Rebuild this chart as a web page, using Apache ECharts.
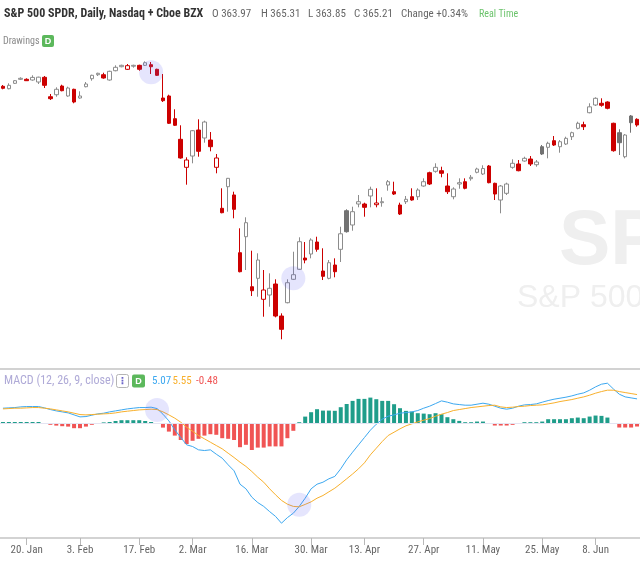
<!DOCTYPE html>
<html><head><meta charset="utf-8">
<script src="https://cdn.jsdelivr.net/npm/echarts@6/dist/echarts.min.js"></script>
<style>html,body{margin:0;padding:0;background:#fff}#c{width:640px;height:562px}</style>
</head><body><div id="c"></div>
<script>
// trading days (2020)
const dates = [
 '01-14','01-15','01-16','01-17','01-21','01-22','01-23','01-24','01-27','01-28','01-29','01-30','01-31',
 '02-03','02-04','02-05','02-06','02-07','02-10','02-11','02-12','02-13','02-14','02-18','02-19','02-20','02-21','02-24','02-25','02-26','02-27','02-28',
 '03-02','03-03','03-04','03-05','03-06','03-09','03-10','03-11','03-12','03-13','03-16','03-17','03-18','03-19','03-20','03-23','03-24','03-25','03-26','03-27','03-30','03-31',
 '04-01','04-02','04-03','04-06','04-07','04-08','04-09','04-13','04-14','04-15','04-16','04-17','04-20','04-21','04-22','04-23','04-24','04-27','04-28','04-29','04-30',
 '05-01','05-04','05-05','05-06','05-07','05-08','05-11','05-12','05-13','05-14','05-15','05-18','05-19','05-20','05-21','05-22','05-26','05-27','05-28','05-29',
 '06-01','06-02','06-03','06-04','06-05','06-08','06-09','06-10','06-11','06-12','06-15','06-16','06-17'
].map(d => '2020-' + d);

// x-axis tick labels
const tickDates = ['2020-01-21','2020-02-03','2020-02-18','2020-03-02','2020-03-16','2020-03-30','2020-04-13','2020-04-27','2020-05-11','2020-05-26','2020-06-08'];
const tickLabels = ['20. Jan','3. Feb','17. Feb','2. Mar','16. Mar','30. Mar','13. Apr','27. Apr','11. May','25. May','8. Jun'];

// [open, close, low, high]
const candles = [
 [328.32,327.45,327.01,328.88],[327.27,328.75,327.01,329.62],[329.62,330.76,329.32,331.06],[331.37,331.80,331.06,332.24],
 [331.37,330.76,330.63,331.80],[331.06,332.20,330.76,333.11],[330.19,332.30,329.32,332.50],[332.24,328.75,327.58,332.80],
 [323.79,322.92,322.35,324.97],[324.66,327.01,323.79,327.88],[328.45,326.40,326.14,329.01],[324.10,327.58,323.79,328.14],
 [327.01,321.48,320.92,327.27],[323.22,324.10,322.92,326.14],[328.14,329.32,327.88,330.19],[331.63,333.11,330.76,333.37],
 [333.37,333.98,332.80,334.24],[333.37,331.93,331.63,334.24],[331.06,334.85,330.76,335.11],[335.11,336.59,334.85,337.46],
 [336.85,337.46,336.59,337.72],[335.72,337.30,335.42,338.03],[337.07,337.46,336.42,337.72],[337.46,335.72,335.11,337.72],
 [337.46,338.59,337.16,339.20],[337.72,336.85,333.68,338.90],[335.72,333.11,332.80,335.98],[323.22,322.05,321.48,333.68],
 [324.10,312.21,311.90,324.66],[314.21,311.34,311.03,318.30],[305.24,297.10,296.79,311.34],[293.04,296.22,285.47,297.40],
 [297.96,308.98,294.79,309.29],[309.29,300.01,297.66,313.95],[305.81,312.77,303.76,313.34],[304.93,302.02,300.01,308.41],
 [293.04,297.10,290.43,298.84],[275.19,273.27,273.01,283.90],[284.60,288.25,273.71,288.40],[281.00,274.75,270.83,282.42],
 [255.85,247.58,247.30,266.48],[262.82,268.92,248.32,271.27],[241.04,239.30,236.99,256.72],[244.70,252.67,236.69,255.59],
 [235.56,239.61,227.98,248.32],[237.43,240.35,232.33,246.88],[242.22,228.28,227.70,244.27],[228.28,222.49,218.14,229.46],
 [234.08,242.79,233.81,244.27],[244.27,246.27,243.96,256.29],[248.62,260.64,248.32,262.56],[253.54,252.67,251.23,260.51],
 [255.28,261.38,253.41,262.12],[260.51,257.33,256.29,262.82],[247.88,245.57,243.96,257.77],[244.70,251.50,244.27,252.67],
 [250.49,247.58,245.14,253.41],[257.33,264.10,251.80,267.17],[274.14,265.00,264.60,274.75],[267.92,273.71,265.43,275.89],
 [277.06,278.06,275.62,280.98],[277.06,275.62,271.53,277.63],[280.55,283.46,275.62,284.60],[276.76,277.50,275.62,283.90],
 [277.63,278.06,275.89,279.98],[285.33,286.77,282.85,287.51],[282.42,281.41,280.98,286.77],[276.62,272.70,272.27,277.63],
 [278.06,279.11,277.06,280.55],[280.24,278.80,278.50,283.90],[280.24,283.16,278.80,283.90],[284.90,286.77,284.60,288.25],
 [290.69,285.77,285.33,291.13],[291.30,293.04,290.69,294.79],[291.56,290.43,288.69,293.30],[284.90,282.42,281.41,290.43],
 [280.24,283.59,279.11,284.33],[285.77,286.34,283.72,288.25],[286.77,283.90,283.46,288.25],[288.08,288.69,287.21,289.69],
 [290.87,292.30,290.43,292.87],[290.13,292.50,289.69,293.92],[293.61,286.34,286.08,294.05],[286.08,281.41,278.80,286.34],
 [278.80,284.90,273.01,285.33],[281.72,285.77,280.98,286.34],[293.04,294.79,292.43,296.53],[294.48,291.56,291.30,296.22],
 [295.79,296.96,295.48,297.66],[296.66,294.48,293.61,297.96],[294.18,295.35,293.30,296.22],[302.01,298.84,298.40,302.76],
 [301.75,303.50,296.96,304.19],[304.63,302.75,302.32,306.67],[302.01,304.19,299.40,304.93],[303.19,305.67,302.75,306.37],
 [306.37,308.11,304.93,308.55],[310.03,312.21,309.59,312.90],[311.59,310.72,309.29,312.90],[316.82,319.37,316.56,320.92],
 [320.18,323.09,319.74,323.53],[320.92,320.05,319.43,323.09],[321.48,318.74,318.30,321.79],[312.21,300.27,299.84,312.47],
 [308.11,303.76,298.40,309.59],[297.66,307.11,296.96,307.55],[315.39,312.47,308.11,315.82],[313.95,311.47,310.72,314.38]
];

// MACD (12, 26, 9)
const macdLine = [
 3.75,3.83,3.91,4.08,4.16,4.16,4.16,3.83,3.41,3.08,
 2.83,2.58,2.08,1.58,1.66,2.0,2.33,2.5,2.83,3.08,
 3.33,3.58,3.75,3.91,3.91,4.0,3.66,2.25,0.58,-1.66,
 -3.58,-5.41,-5.83,-6.66,-6.83,-6.66,-7.75,-8.75,-10.4,-11.9,
 -15.25,-16.4,-18.5,-19.84,-20.8,-22.1,-23.3,-25.0,-23.6,-22.5,
 -20.8,-18.75,-16.4,-15.25,-14.75,-13.9,-13.3,-11.4,-9.16,-7.25,
 -5.41,-3.58,-1.75,-0.25,1.0,1.75,2.08,2.5,2.66,2.83,
 3.16,3.75,4.25,4.91,5.58,5.25,4.83,4.66,4.5,4.5,
 4.75,5.0,4.75,4.25,3.75,3.5,3.75,4.25,4.58,4.66,
 4.83,5.25,5.66,6.0,6.25,6.5,6.83,7.25,7.58,8.25,
 9.08,9.75,10.0,8.58,7.25,6.58,6.33,6.08
];
const signalLine = [
 3.58,3.66,3.75,3.75,3.83,3.91,3.91,3.75,3.58,3.33,
 3.08,2.83,2.5,2.16,2.08,2.16,2.25,2.33,2.41,2.58,
 2.83,3.0,3.16,3.33,3.41,3.5,3.41,2.83,2.08,1.25,
 0.25,-1.0,-2.0,-3.08,-3.91,-4.75,-5.58,-6.41,-7.5,-8.58,
 -9.75,-10.8,-12.08,-13.5,-14.75,-16.4,-17.9,-19.3,-20.25,-20.8,
 -20.9,-20.3,-19.66,-18.75,-18.08,-17.16,-16.25,-15.1,-13.9,-12.7,
 -11.4,-9.91,-7.91,-6.25,-4.58,-3.08,-2.25,-1.41,-0.66,-0.16,
 0.33,0.75,1.16,1.75,2.25,2.66,3.16,3.41,3.66,3.91,
 4.08,4.25,4.41,4.5,4.08,3.91,4.0,4.16,4.25,4.41,
 4.5,4.58,4.83,5.08,5.41,5.66,5.91,6.25,6.58,7.0,
 7.5,7.91,8.25,8.25,7.91,7.66,7.41,7.16
];
const histogram = [
 0.3,0.3,0.3,0.3,0.3,0.3,0.3,0.05,-0.4,-0.6,
 -0.75,-0.85,-1.25,-1.25,-0.85,-0.4,0.05,0.2,0.3,0.55,
 0.75,0.75,0.75,0.75,0.55,0.3,0.05,-1.1,-2.1,-3.1,
 -4.2,-5.2,-4.4,-3.9,-3.1,-2.75,-2.9,-3.75,-3.9,-4.2,
 -6.0,-5.4,-6.7,-6.1,-6.1,-5.8,-5.8,-5.8,-3.75,-1.9,
 0.25,1.65,2.75,3.5,3.15,3.15,3.1,4.0,4.8,5.58,
 6.08,6.08,6.4,6.0,5.58,5.58,4.75,3.75,3.08,2.9,
 2.5,2.4,2.25,2.5,2.25,1.5,1.0,0.58,0.25,0.25,
 0.41,0.41,0.05,-0.58,-0.58,-0.58,-0.41,-0.08,0.25,0.25,
 0.25,0.41,1.0,1.0,1.0,1.0,1.25,1.41,1.25,1.66,
 1.91,1.83,1.41,-0.1,-1.08,-1.08,-1.08,-0.83
];

// highlighted points (drawings)
const priceHighlights = [['2020-02-20', 334.4], ['2020-03-25', 244.7]];
const macdHighlights = [['2020-02-21', 3.3], ['2020-03-26', -20.4]];

const NARROW = "'Liberation Sans Narrow','Arial Narrow','Roboto Condensed','DejaVu Sans Condensed',sans-serif";
const RED = '#cc0000', GRAY = '#8c8c8c', DARK = '#727272';

function candleStyle(c, i) {
  const prev = i > 0 ? candles[i - 1][1] : c[0];
  const up = c[1] > c[0];
  const higher = c[1] >= prev;
  let fill, stroke;
  if (higher) { stroke = up ? GRAY : DARK; fill = up ? '#ffffff' : DARK; }
  else { stroke = RED; fill = up ? '#ffffff' : RED; }
  return { color: fill, color0: fill, borderColor: stroke, borderColor0: stroke, borderWidth: 1 };
}

const labelMap = {};
tickDates.forEach((d, k) => labelMap[d] = tickLabels[k]);
const showTick = (i, v) => labelMap[v] !== undefined;

function txt(x, y, text, font, fill, align) {
  return { type: 'text', x: x, y: y, z: 10,
    style: { text: text, font: font, fill: fill, align: align || 'left', textAlign: align || 'left',
             verticalAlign: 'middle', textVerticalAlign: 'middle' } };
}

const chart = echarts.init(document.getElementById('c'), null, { renderer: 'canvas' });
chart.setOption({
  animation: false,
  backgroundColor: '#ffffff',
  grid: [
    { left: 0, right: 0, top: 48, height: 310 },
    { left: 0, right: 0, top: 380, height: 158 }
  ],
  xAxis: [
    { type: 'category', data: dates, gridIndex: 0, show: false },
    { type: 'category', data: dates, gridIndex: 1, position: 'bottom',
      axisLine: { show: true, onZero: false, lineStyle: { color: '#c4c4c4', width: 1.5 } },
      axisTick: { show: true, alignWithLabel: true, interval: showTick, length: 7, lineStyle: { color: '#b8b8b8', width: 1 } },
      axisLabel: { interval: showTick, formatter: v => labelMap[v] || '', color: '#666666',
                   fontSize: 11, fontFamily: NARROW, margin: 7 } }
  ],
  yAxis: [
    { type: 'value', gridIndex: 0, min: 210, max: 345, show: false },
    { type: 'value', gridIndex: 1, min: -28.7, max: 10.8, show: false }
  ],
  series: [
    { type: 'candlestick', xAxisIndex: 0, yAxisIndex: 0, barWidth: 4,
      data: candles.map((c, i) => ({ value: c, itemStyle: candleStyle(c, i) })) },
    { type: 'scatter', xAxisIndex: 0, yAxisIndex: 0, data: priceHighlights, symbolSize: 24, silent: true, z: 5,
      itemStyle: { color: 'rgba(95,95,240,0.2)' } },
    { type: 'bar', xAxisIndex: 1, yAxisIndex: 1, barWidth: 4,
      data: histogram.map(v => ({ value: v, itemStyle: { color: v >= 0 ? '#1f9d8a' : '#f05454' } })),
      markLine: { silent: true, symbol: ['none', 'none'], label: { show: false },
                  lineStyle: { color: '#e4e4f2', type: 'solid', width: 1 }, data: [{ yAxis: 0 }] } },
    { type: 'line', xAxisIndex: 1, yAxisIndex: 1, data: macdLine, symbol: 'none',
      lineStyle: { color: '#3ca8f0', width: 1 } },
    { type: 'line', xAxisIndex: 1, yAxisIndex: 1, data: signalLine, symbol: 'none',
      lineStyle: { color: '#f8b02c', width: 1 } },
    { type: 'scatter', xAxisIndex: 1, yAxisIndex: 1, data: macdHighlights, symbolSize: 24, silent: true, z: 5,
      itemStyle: { color: 'rgba(95,95,240,0.2)' } }
  ],
  graphic: { elements: [
    // watermark
    { type: 'text', x: 559, y: 243, z: 0, style: { text: 'SPY', font: 'bold 77px "Liberation Sans", Arial, sans-serif',
      fill: '#efefef', verticalAlign: 'middle', textVerticalAlign: 'middle' } },
    { type: 'text', x: 517, y: 298, z: 0, style: { text: 'S&P 500 SPDR', font: '32px "Liberation Sans", Arial, sans-serif',
      fill: '#efefef', verticalAlign: 'middle', textVerticalAlign: 'middle' } },
    // header
    txt(4, 14, 'S&P 500 SPDR, Daily, Nasdaq + Cboe BZX', 'bold 12px ' + NARROW, '#333333'),
    txt(212, 14, 'O 363.97', '11px ' + NARROW, '#666666'),
    txt(261, 14, 'H 365.31', '11px ' + NARROW, '#666666'),
    txt(308, 14, 'L 363.85', '11px ' + NARROW, '#666666'),
    txt(354, 14, 'C 365.21', '11px ' + NARROW, '#666666'),
    txt(401, 14, 'Change +0.34%', '11px ' + NARROW, '#666666'),
    txt(479, 14, 'Real Time', '10px ' + NARROW, '#6cc36c'),
    txt(3, 41, 'Drawings', '10px ' + NARROW, '#8a8a8a'),
    { type: 'rect', z: 10, shape: { x: 42, y: 35, width: 12, height: 12, r: 2 }, style: { fill: '#5cb85c' } },
    txt(48, 41.5, 'D', 'bold 9px "Liberation Sans", Arial, sans-serif', '#ffffff', 'center'),
    // panel separator
    { type: 'line', z: 10, shape: { x1: 0, y1: 369, x2: 640, y2: 369 }, style: { stroke: '#d2d2d2', lineWidth: 2 } },
    // MACD legend
    txt(4, 381, 'MACD (12, 26, 9, close)', '12px ' + NARROW, '#afaad7'),
    { type: 'rect', z: 10, shape: { x: 116.5, y: 374.5, width: 12, height: 13, r: 2 },
      style: { fill: '#ffffff', stroke: '#b5b5b5', lineWidth: 1 } },
    txt(122.5, 381, '⋮', 'bold 10px "DejaVu Sans", sans-serif', '#6a63c9', 'center'),
    { type: 'rect', z: 10, shape: { x: 132, y: 374.5, width: 13, height: 13, r: 2 }, style: { fill: '#5cb85c' } },
    txt(138.5, 381.5, 'D', 'bold 9px "Liberation Sans", Arial, sans-serif', '#ffffff', 'center'),
    txt(152, 381, '5.07', '11px ' + NARROW, '#3ca8f0'),
    txt(172.5, 381, '5.55', '11px ' + NARROW, '#f8b02c'),
    txt(196, 381, '-0.48', '11px ' + NARROW, '#f05454')
  ] }
});
</script></body></html>
